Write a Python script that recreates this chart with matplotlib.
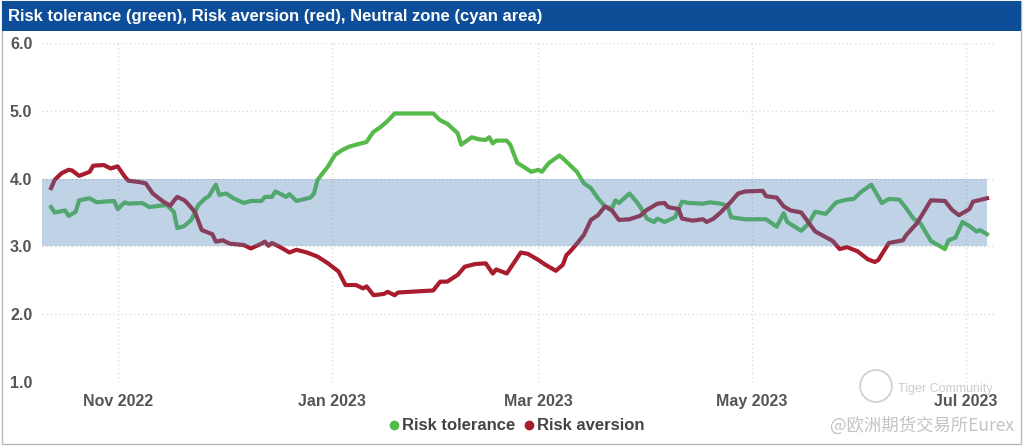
import numpy as np
import matplotlib
matplotlib.use("Agg")
import matplotlib.pyplot as plt
import matplotlib.dates as mdates
from matplotlib.patches import Rectangle, Circle
from matplotlib.lines import Line2D

# day offsets are counted from 1 Nov 2022
base_day = np.datetime64("2022-11-01")

tol_days = [-19, -18, -15, -14, -12, -11, -8, -6, -4, -1, 0, 2, 3, 7, 9, 12, 14, 16, 17, 19,
            21, 23, 25, 26, 28, 29, 31, 33, 36, 38, 41, 42, 44, 45, 47, 48, 49, 51, 55, 56,
            57, 60, 62, 64, 66, 68, 71, 72, 73, 75, 77, 79, 90, 92, 94, 97, 98, 101, 103, 105,
            106, 107, 108, 111, 112, 114, 115, 118, 120, 121, 123, 126, 127, 131, 133, 135, 137, 139, 141, 142,
            143, 146, 148, 149, 151, 153, 154, 156, 159, 161, 163, 167, 169, 172, 174, 175, 179, 185, 188, 190,
            191, 195, 197, 199, 202, 205, 208, 210, 212, 215, 218, 220, 223, 225, 227, 229, 232, 236, 237, 239,
            241, 243, 245, 246, 248]
tol_vals = [3.58, 3.50, 3.53, 3.45, 3.51, 3.68, 3.71, 3.65, 3.66, 3.67, 3.55, 3.65, 3.63, 3.64, 3.58, 3.60, 3.61, 3.51, 3.27, 3.30,
            3.39, 3.61, 3.71, 3.74, 3.91, 3.76, 3.78, 3.71, 3.64, 3.67, 3.67, 3.73, 3.73, 3.81, 3.76, 3.73, 3.77, 3.67, 3.72, 3.78,
            3.98, 4.18, 4.35, 4.42, 4.47, 4.50, 4.54, 4.62, 4.69, 4.76, 4.85, 4.96, 4.96, 4.86, 4.81, 4.67, 4.50, 4.61, 4.58, 4.57,
            4.61, 4.52, 4.56, 4.56, 4.50, 4.23, 4.20, 4.10, 4.13, 4.10, 4.23, 4.34, 4.30, 4.10, 3.93, 3.86, 3.71, 3.59, 3.56, 3.68,
            3.64, 3.78, 3.66, 3.59, 3.41, 3.36, 3.41, 3.36, 3.43, 3.66, 3.64, 3.63, 3.65, 3.63, 3.60, 3.43, 3.40, 3.40, 3.29, 3.49,
            3.36, 3.23, 3.33, 3.51, 3.48, 3.65, 3.69, 3.70, 3.80, 3.91, 3.64, 3.70, 3.69, 3.56, 3.41, 3.34, 3.08, 2.96, 3.09, 3.13,
            3.36, 3.30, 3.22, 3.24, 3.18]

ave_days = [-19, -18, -16, -14, -13, -11, -8, -7, -4, -2, 0, 2, 3, 6, 8, 10, 13, 15, 16, 17,
            19, 20, 22, 24, 26, 27, 28, 30, 32, 36, 38, 41, 42, 43, 44, 46, 49, 51, 54, 57,
            60, 63, 65, 68, 70, 71, 73, 76, 77, 79, 80, 90, 92, 94, 97, 99, 102, 105, 107, 108,
            111, 115, 117, 120, 122, 125, 127, 128, 129, 131, 133, 135, 137, 139, 141, 143, 146, 149, 151, 154,
            156, 157, 160, 161, 164, 167, 168, 170, 172, 175, 177, 179, 184, 185, 188, 190, 192, 195, 198, 199,
            204, 206, 208, 211, 214, 216, 217, 220, 224, 225, 228, 232, 236, 238, 240, 243, 244, 248]
ave_vals = [3.86, 3.98, 4.08, 4.13, 4.12, 4.04, 4.10, 4.19, 4.20, 4.15, 4.18, 4.03, 3.97, 3.95, 3.93, 3.78, 3.66, 3.60, 3.67, 3.73,
            3.68, 3.63, 3.51, 3.24, 3.20, 3.18, 3.07, 3.09, 3.04, 3.02, 2.97, 3.04, 3.07, 3.01, 3.05, 3.00, 2.91, 2.95, 2.91, 2.85,
            2.75, 2.63, 2.43, 2.43, 2.38, 2.41, 2.28, 2.30, 2.33, 2.28, 2.32, 2.35, 2.48, 2.48, 2.58, 2.70, 2.74, 2.75, 2.60, 2.66,
            2.60, 2.91, 2.89, 2.80, 2.73, 2.64, 2.73, 2.87, 2.92, 3.04, 3.17, 3.39, 3.46, 3.59, 3.53, 3.39, 3.40, 3.45, 3.54, 3.63,
            3.64, 3.58, 3.55, 3.41, 3.38, 3.40, 3.36, 3.41, 3.50, 3.66, 3.78, 3.81, 3.82, 3.74, 3.72, 3.59, 3.53, 3.50, 3.29, 3.22,
            3.08, 2.96, 2.99, 2.93, 2.81, 2.77, 2.80, 3.05, 3.09, 3.17, 3.34, 3.68, 3.67, 3.54, 3.46, 3.55, 3.66, 3.71]

neutral_low, neutral_high = 3.0, 4.0
month_ticks = ["2022-11-01", "2023-01-01", "2023-03-01", "2023-05-01", "2023-07-01"]
month_labels = ["Nov 2022", "Jan 2023", "Mar 2023", "May 2023", "Jul 2023"]
y_ticks = [1.0, 2.0, 3.0, 4.0, 5.0, 6.0]

GREEN = "#56ba4a"
RED = "#a81c2e"
TXT = "#555555"
FONT = ["Liberation Sans Narrow", "Liberation Sans", "DejaVu Sans"]
plt.rcParams["font.family"] = FONT

fig = plt.figure(figsize=(10.24, 4.46), dpi=100)

# card frame and title bar
fig.patches.append(Rectangle((0.002, 0.004), 0.995, 0.993, transform=fig.transFigure,
                             fill=False, ec="#b8b8b8", lw=1.0))
fig.patches.append(Rectangle((0.002, 0.9305), 0.995, 0.067, transform=fig.transFigure,
                             fc="#0e4e98", ec="none"))
fig.text(0.008, 0.963, "Risk tolerance (green), Risk aversion (red), Neutral zone (cyan area)",
         color="white", fontsize=12, fontweight="bold", va="center", ha="left")

ax = fig.add_axes([0.041, 0.1435, 0.9297, 0.7601])

tol_x = base_day + np.array(tol_days).astype("timedelta64[D]")
ave_x = base_day + np.array(ave_days).astype("timedelta64[D]")

ax.plot(tol_x, tol_vals, color=GREEN, lw=3.0, solid_joinstyle="round", zorder=2)
ax.plot(ave_x, ave_vals, color=RED, lw=3.0, solid_joinstyle="round", zorder=2)

x0 = mdates.date2num(base_day) - 21.6
x1 = mdates.date2num(base_day) + 250
band_end = mdates.date2num(max(tol_x[-1], ave_x[-1]))
ax.fill_between([x0, band_end], neutral_low, neutral_high, color="#4b81b8", alpha=0.35, lw=0, zorder=3)

ax.set_xlim(x0, x1)
ax.set_ylim(1, 6)
ax.set_xticks(np.array(month_ticks, dtype="datetime64[D]"))
ax.set_xticklabels(month_labels)
ax.set_yticks(y_ticks)
ax.set_yticklabels([f"{v:.1f}" for v in y_ticks])
ax.tick_params(length=0, labelcolor=TXT, labelsize=11.5)
ax.tick_params(axis="x", pad=9)
ax.tick_params(axis="y", pad=7)
for lab in ax.get_xticklabels() + ax.get_yticklabels():
    lab.set_fontweight("bold")
ax.grid(True, color="#dcdcdc", ls=(0, (1, 2)), lw=1.0)
for s in ax.spines.values():
    s.set_visible(False)

handles = [Line2D([], [], ls="", marker="o", ms=6, color=GREEN),
           Line2D([], [], ls="", marker="o", ms=6, color=RED)]
leg = fig.legend(handles, ["Risk tolerance", "Risk aversion"], loc="center", bbox_to_anchor=(0.503, 0.045),
                 ncol=2, frameon=False, handletextpad=0.0, columnspacing=0.3, handlelength=1.0,
                 prop={"weight": "bold", "size": 12})
for t in leg.get_texts():
    t.set_color("#444444")

# watermark
fig.patches.append(Circle((8.76, 0.60), 0.16, transform=fig.dpi_scale_trans, fill=False,
                          ec="#cfcfcf", lw=1.2))
fig.text(0.877, 0.128, "Tiger Community", color="#cccccc", fontsize=9, ha="left", va="center")
fig.text(0.99, 0.045, "@欧洲期货交易所Eurex", color="#c4c4c4", fontsize=12.5, ha="right", va="center",
         family=["Noto Sans CJK SC", "DejaVu Sans"])

fig.savefig("out.png", dpi=100)
